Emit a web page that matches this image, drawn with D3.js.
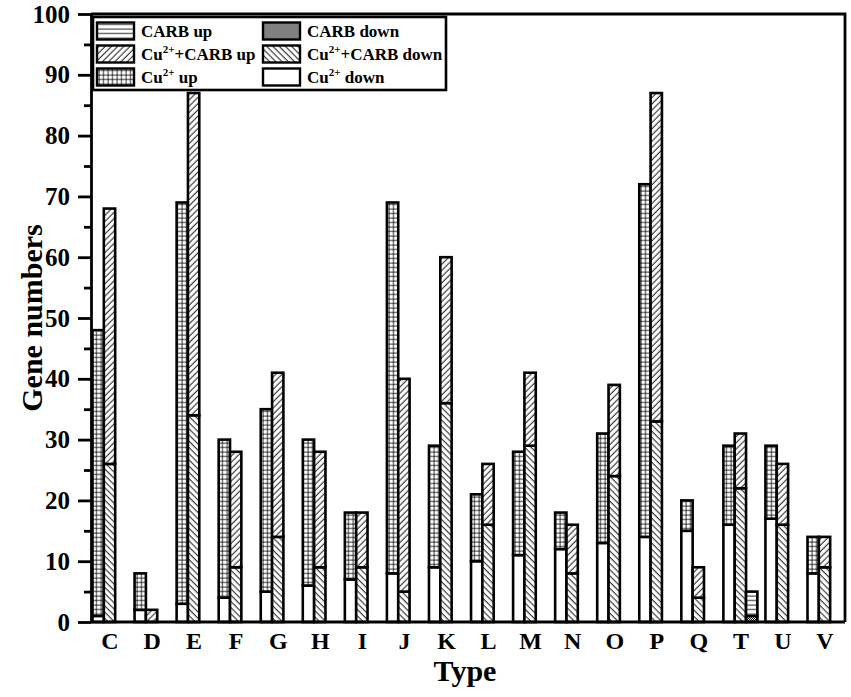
<!DOCTYPE html>
<html>
<head>
<meta charset="utf-8">
<script src="https://cdn.jsdelivr.net/npm/d3@7"></script>
<style>
  body { margin: 0; background: #fff; }
  svg text { font-family: "Liberation Serif", "Times New Roman", serif; font-weight: bold; }
</style>
</head>
<body>
<svg id="chart"></svg>
<script>
var categories = ['C', 'D', 'E', 'F', 'G', 'H', 'I', 'J', 'K', 'L', 'M', 'N', 'O', 'P', 'Q', 'T', 'U', 'V'];
var cuDown     = [1, 2, 3, 4, 5, 6, 7, 8, 9, 10, 11, 12, 13, 14, 15, 16, 17, 8];
var cuUp       = [47, 6, 66, 26, 30, 24, 11, 61, 20, 11, 17, 6, 18, 58, 5, 13, 12, 6];
var cuCarbDown = [26, 0, 34, 9, 14, 9, 9, 5, 36, 16, 29, 8, 24, 33, 4, 22, 16, 9];
var cuCarbUp   = [42, 2, 53, 19, 27, 19, 9, 35, 24, 10, 12, 8, 15, 54, 5, 9, 10, 5];
var carbDown   = [0, 0, 0, 0, 0, 0, 0, 0, 0, 0, 0, 0, 0, 0, 0, 1, 0, 0];
var carbUp     = [0, 0, 0, 0, 0, 0, 0, 0, 0, 0, 0, 0, 0, 0, 0, 4, 0, 0];
var yTicks = [0, 10, 20, 30, 40, 50, 60, 70, 80, 90, 100];

(function () {
  var width = 851, height = 697;
  var left = 91, right = 845, top = 14, bottom = 622;

  var svg = d3.select('#chart').attr('width', width).attr('height', height);
  var defs = svg.append('defs');

  function pattern(id, w, h, rot) {
    var p = defs.append('pattern')
      .attr('id', id)
      .attr('patternUnits', 'userSpaceOnUse')
      .attr('width', w).attr('height', h);
    if (rot) p.attr('patternTransform', 'rotate(' + rot + ')');
    p.append('rect').attr('width', w).attr('height', h).attr('fill', '#fff');
    return p;
  }

  pattern('hlines', 6, 4.5).append('line')
    .attr('x1', 0).attr('x2', 6).attr('y1', 2).attr('y2', 2)
    .attr('stroke', '#000').attr('stroke-width', 0.9);

  pattern('fslash', 4.4, 10, 45).append('line')
    .attr('x1', 2).attr('x2', 2).attr('y1', 0).attr('y2', 10)
    .attr('stroke', '#000').attr('stroke-width', 0.9);

  pattern('bslash', 4.4, 10, -45).append('line')
    .attr('x1', 2).attr('x2', 2).attr('y1', 0).attr('y2', 10)
    .attr('stroke', '#000').attr('stroke-width', 0.9);

  var grid = pattern('grid', 4.5, 4.5);
  grid.append('line').attr('x1', 0).attr('x2', 4.5).attr('y1', 2).attr('y2', 2)
    .attr('stroke', '#000').attr('stroke-width', 0.8);
  grid.append('line').attr('x1', 2).attr('x2', 2).attr('y1', 0).attr('y2', 4.5)
    .attr('stroke', '#000').attr('stroke-width', 0.8);

  var dots = pattern('dots', 2, 2);
  dots.append('rect').attr('x', 0).attr('y', 0).attr('width', 1).attr('height', 1).attr('fill', '#000');
  dots.append('rect').attr('x', 1).attr('y', 1).attr('width', 1).attr('height', 1).attr('fill', '#000');

  var fills = {
    carbUp: 'url(#hlines)', carbDown: 'url(#dots)',
    cuCarbUp: 'url(#fslash)', cuCarbDown: 'url(#bslash)',
    cuUp: 'url(#grid)', cuDown: '#fff'
  };

  var x = d3.scalePoint().domain(categories).range([left, 843]).padding(0.44);
  var inner = d3.scaleBand().domain(['cu', 'cuCarb', 'carb']).range([-17, 17]);
  var y = d3.scaleLinear().domain([0, 100]).range([bottom, top]);

  // one stacked bar per slot: down on the bottom, up on top
  var stacks = [
    {slot: 'cu', down: cuDown, up: cuUp, fd: fills.cuDown, fu: fills.cuUp},
    {slot: 'cuCarb', down: cuCarbDown, up: cuCarbUp, fd: fills.cuCarbDown, fu: fills.cuCarbUp},
    {slot: 'carb', down: carbDown, up: carbUp, fd: fills.carbDown, fu: fills.carbUp}
  ];

  var segs = [];
  stacks.forEach(function (s) {
    categories.forEach(function (c, i) {
      var d = s.down[i], u = s.up[i];
      if (d > 0) segs.push({cat: c, slot: s.slot, y0: 0, y1: d, fill: s.fd});
      if (u > 0) segs.push({cat: c, slot: s.slot, y0: d, y1: d + u, fill: s.fu});
    });
  });

  svg.append('g').selectAll('rect')
    .data(segs)
    .enter().append('rect')
    .attr('x', function (d) { return x(d.cat) + inner(d.slot); })
    .attr('width', inner.bandwidth())
    .attr('y', function (d) { return y(d.y1); })
    .attr('height', function (d) { return y(d.y0) - y(d.y1); })
    .attr('fill', function (d) { return d.fill; })
    .attr('stroke', '#000')
    .attr('stroke-width', 2.6);

  // axes
  var yAxis = svg.append('g')
    .attr('transform', 'translate(' + left + ',0)')
    .call(d3.axisLeft(y).tickValues(yTicks).tickSize(13).tickSizeOuter(0).tickPadding(8));
  yAxis.selectAll('text').style('font-size', '25px').attr('fill', '#000');

  var minor = svg.append('g')
    .attr('transform', 'translate(' + left + ',0)')
    .call(d3.axisLeft(y).tickValues(d3.range(5, 100, 10)).tickSize(7).tickFormat(''));
  minor.select('.domain').remove();

  var xAxis = svg.append('g')
    .attr('transform', 'translate(0,' + bottom + ')')
    .call(d3.axisBottom(x).tickSize(0).tickPadding(10));
  xAxis.select('.domain').attr('d', 'M' + left + ',0H' + right);
  xAxis.selectAll('text').style('font-size', '24px').attr('fill', '#000');

  svg.selectAll('.domain, .tick line').attr('stroke', '#000').attr('stroke-width', 2.8);

  svg.append('path')
    .attr('d', 'M' + left + ',' + top + 'H' + right + 'V' + bottom)
    .attr('fill', 'none').attr('stroke', '#000').attr('stroke-width', 2.8);

  svg.append('text')
    .attr('transform', 'translate(42,' + ((top + bottom) / 2) + ') rotate(-90)')
    .attr('text-anchor', 'middle')
    .style('font-size', '30px')
    .text('Gene numbers');

  svg.append('text')
    .attr('x', 465).attr('y', 681)
    .attr('text-anchor', 'middle')
    .style('font-size', '30px')
    .text('Type');

  // legend
  var legendItems = [
    {fill: fills.carbUp, label: ['CARB up'], col: 0, row: 0},
    {fill: fills.carbDown, label: ['CARB down'], col: 1, row: 0},
    {fill: fills.cuCarbUp, label: ['Cu', '2+', '+CARB up'], col: 0, row: 1},
    {fill: fills.cuCarbDown, label: ['Cu', '2+', '+CARB down'], col: 1, row: 1},
    {fill: fills.cuUp, label: ['Cu', '2+', ' up'], col: 0, row: 2},
    {fill: fills.cuDown, label: ['Cu', '2+', ' down'], col: 1, row: 2}
  ];

  var legend = svg.append('g');
  legend.append('rect')
    .attr('x', 93).attr('y', 17).attr('width', 353).attr('height', 73)
    .attr('fill', '#fff').attr('stroke', '#000').attr('stroke-width', 2.6);

  var colX = [97, 263], rowY = [22.5, 45.5, 68.5];
  var item = legend.selectAll('.item')
    .data(legendItems)
    .enter().append('g')
    .attr('class', 'item')
    .attr('transform', function (d) { return 'translate(' + colX[d.col] + ',' + rowY[d.row] + ')'; });

  item.append('rect')
    .attr('width', 37).attr('height', 17)
    .attr('fill', function (d) { return d.fill; })
    .attr('stroke', '#000').attr('stroke-width', 2.4);

  item.append('text')
    .attr('x', 44).attr('y', 14.5)
    .style('font-size', '17px')
    .each(function (d) {
      var t = d3.select(this);
      t.append('tspan').text(d.label[0]);
      if (d.label.length > 1) {
        t.append('tspan').attr('dy', -7).style('font-size', '11px').text(d.label[1]);
        t.append('tspan').attr('dy', 7).text(d.label[2]);
      }
    });
})();
</script>
</body>
</html>
